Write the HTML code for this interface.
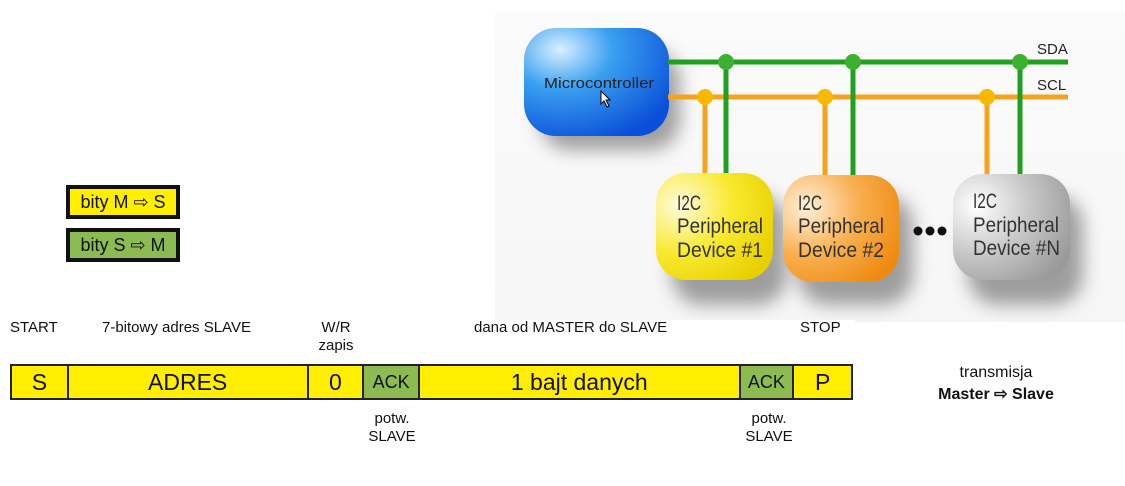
<!DOCTYPE html>
<html><head><meta charset="utf-8"><style>
body{margin:0;width:1125px;height:486px;background:#fff;position:relative;overflow:hidden;font-family:"Liberation Sans",sans-serif;}
.a{position:absolute;}
.lg{position:absolute;left:66px;width:106px;height:26px;border:4px solid #111;font-size:18px;line-height:26px;text-align:center;color:#111;}
.bar{position:absolute;top:364px;left:10px;height:36px;display:flex;border:2px solid #222;box-sizing:border-box;width:843px;}
.bar div{box-sizing:border-box;border-right:2px solid #222;height:100%;text-align:center;line-height:33px;font-size:23px;color:#111;background:#ffee00;}
.bar .g{background:#8cbb52;font-size:18px;}
.lbl{position:absolute;font-size:15px;color:#111;text-align:center;line-height:18px;}
</style></head><body>
<div class="a" style="left:495px;top:12px;width:630px;height:310px;background:linear-gradient(180deg,#fbfbfb,#f6f6f6);"></div>
<svg class="a" style="left:0;top:0" width="1125" height="486">
<defs>
<radialGradient id="bl" cx="0.25" cy="0.2" r="0.9"><stop offset="0" stop-color="#d8f0ff"/><stop offset="0.4" stop-color="#3aa0f0"/><stop offset="1" stop-color="#0a4fd8"/></radialGradient>
<radialGradient id="ye" cx="0.2" cy="0.3" r="0.9"><stop offset="0" stop-color="#fffbe0"/><stop offset="0.5" stop-color="#f8ea30"/><stop offset="1" stop-color="#e8d000"/></radialGradient>
<radialGradient id="or" cx="0.2" cy="0.3" r="0.9"><stop offset="0" stop-color="#fff0dc"/><stop offset="0.5" stop-color="#f8b050"/><stop offset="1" stop-color="#ee8a10"/></radialGradient>
<radialGradient id="gr" cx="0.2" cy="0.3" r="0.9"><stop offset="0" stop-color="#ffffff"/><stop offset="0.5" stop-color="#c8c8c8"/><stop offset="1" stop-color="#9a9a9a"/></radialGradient>
<filter id="sh" x="-30%" y="-30%" width="170%" height="170%"><feGaussianBlur stdDeviation="9"/></filter>
</defs>
<g fill="#555" opacity="0.55" filter="url(#sh)">
<rect x="540" y="50" width="140" height="100" rx="30"/>
<rect x="672" y="195" width="115" height="110" rx="30"/>
<rect x="798" y="195" width="115" height="110" rx="30"/>
<rect x="968" y="195" width="115" height="110" rx="30"/>
</g>
<rect x="524" y="28" width="145" height="108" rx="32" fill="url(#bl)"/>
<text x="544" y="88" font-size="15" textLength="110" lengthAdjust="spacingAndGlyphs" fill="#222" font-family="Liberation Sans,sans-serif">Microcontroller</text>
<path d="M601 91 l0 13 l3 -3 l3 6 l2 -1 l-3 -6 l4 0 z" fill="#fff" stroke="#000" stroke-width="1"/>
<g stroke="#f7a21c" stroke-width="5" fill="none">
<line x1="668" y1="97" x2="1068" y2="97"/>
<line x1="705" y1="97" x2="705" y2="175"/><line x1="825" y1="97" x2="825" y2="175"/><line x1="987" y1="97" x2="987" y2="175"/>
</g>
<g stroke="#1fa01f" stroke-width="5" fill="none">
<line x1="668" y1="62" x2="1068" y2="62"/>
<line x1="726" y1="62" x2="726" y2="175"/><line x1="853" y1="62" x2="853" y2="175"/><line x1="1020" y1="62" x2="1020" y2="175"/>
</g>
<g fill="#f8b800"><circle cx="705" cy="97" r="8"/><circle cx="825" cy="97" r="8"/><circle cx="987" cy="97" r="8"/></g>
<g fill="#3cb030"><circle cx="726" cy="62" r="8"/><circle cx="853" cy="62" r="8"/><circle cx="1020" cy="62" r="8"/></g>
<text x="1037" y="54" font-size="15" fill="#222" font-family="Liberation Sans,sans-serif">SDA</text>
<text x="1037" y="90" font-size="15" fill="#222" font-family="Liberation Sans,sans-serif">SCL</text>
<rect x="656" y="173" width="117" height="107" rx="30" fill="url(#ye)"/>
<rect x="783" y="175" width="116" height="107" rx="30" fill="url(#or)"/>
<rect x="953" y="174" width="117" height="106" rx="30" fill="url(#gr)"/>
<g font-size="21" fill="#333" font-family="Liberation Sans,sans-serif">
<text x="677" y="210" textLength="24" lengthAdjust="spacingAndGlyphs">I2C</text><text x="677" y="233" textLength="86" lengthAdjust="spacingAndGlyphs">Peripheral</text><text x="677" y="257" textLength="86" lengthAdjust="spacingAndGlyphs">Device #1</text>
<text x="798" y="210" textLength="24" lengthAdjust="spacingAndGlyphs">I2C</text><text x="798" y="233" textLength="86" lengthAdjust="spacingAndGlyphs">Peripheral</text><text x="798" y="257" textLength="86" lengthAdjust="spacingAndGlyphs">Device #2</text>
<text x="973" y="208" textLength="24" lengthAdjust="spacingAndGlyphs">I2C</text><text x="973" y="232" textLength="86" lengthAdjust="spacingAndGlyphs">Peripheral</text><text x="973" y="255" textLength="87" lengthAdjust="spacingAndGlyphs">Device #N</text>
</g>
<g fill="#111"><circle cx="918" cy="231" r="4.5"/><circle cx="930" cy="231" r="4.5"/><circle cx="942" cy="231" r="4.5"/></g>
</svg>
<div class="a" style="left:0;top:320px;width:855px;height:166px;background:#fff"></div>
<div class="lg" style="top:185px;background:#ffee00">bity M ⇨ S</div>
<div class="lg" style="top:228px;background:#8cbb52">bity S ⇨ M</div>
<div class="lbl" style="left:10px;top:319px">START</div>
<div class="lbl" style="left:102px;top:319px">7-bitowy adres SLAVE</div>
<div class="lbl" style="left:308px;top:319px;width:56px">W/R<br>zapis</div>
<div class="lbl" style="left:474px;top:319px">dana od MASTER do SLAVE</div>
<div class="lbl" style="left:800px;top:319px">STOP</div>
<div class="bar">
<div style="width:57px">S</div>
<div style="width:241px">ADRES</div>
<div style="width:56px">0</div>
<div class="g" style="width:56px">ACK</div>
<div style="width:322px">1 bajt danych</div>
<div class="g" style="width:54px">ACK</div>
<div style="width:57px;border-right:none">P</div>
</div>
<div class="lbl" style="left:362px;top:410px;width:60px">potw.<br>SLAVE</div>
<div class="lbl" style="left:739px;top:410px;width:60px">potw.<br>SLAVE</div>
<div class="lbl" style="left:916px;top:362px;width:160px;font-size:16px;line-height:22px">transmisja<br><b>Master ⇨ Slave</b></div>
</body></html>
